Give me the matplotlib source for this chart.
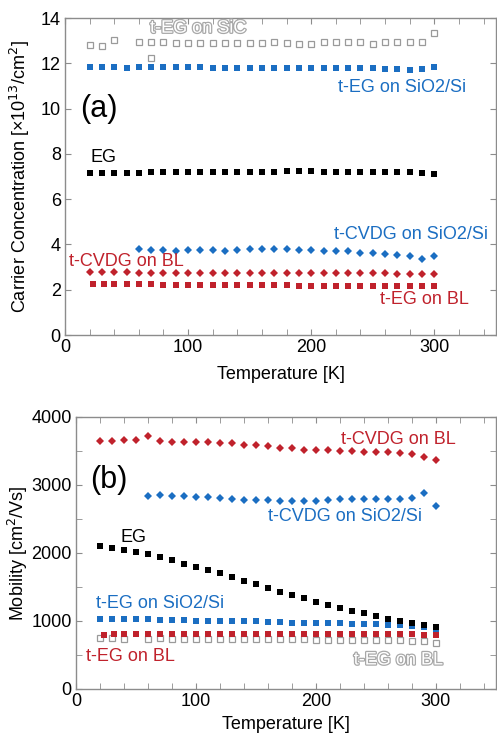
import matplotlib
matplotlib.use("Agg")
import matplotlib.pyplot as plt
import matplotlib.patheffects as pe
from matplotlib.ticker import MultipleLocator

plt.rcParams["font.family"] = ["Liberation Sans", "DejaVu Sans"]

RED = "#c0222c"
BLUE = "#1b6ec2"
GRAY = "#9a9a9a"
SPINE = "#8c8c8c"

# temperature grid shared by most series
temps = list(range(20, 301, 10))
temps_from60 = list(range(60, 301, 10))
temps_red_sq = [23, 32] + list(range(40, 301, 10))
temps_sic = [20, 30, 40, 60, 70, 70] + list(range(80, 301, 10))
temps_gray_b = [20, 30, 40] + list(range(60, 301, 10))

# (a) carrier concentration [1e13 / cm2]
conc_sic = [12.83, 12.76, 13.05, 12.95, 12.95, 12.24,
            12.95, 12.88, 12.88, 12.88, 12.88, 12.88, 12.88, 12.88, 12.88,
            12.95, 12.88, 12.86, 12.86, 12.95, 12.95, 12.95, 12.95, 12.86,
            12.95, 12.95, 12.95, 12.95, 13.35]
conc_teg_sio2 = [11.82, 11.82, 11.82, 11.8, 11.82, 11.82, 11.82, 11.82, 11.82, 11.82,
                 11.8, 11.8, 11.8, 11.8, 11.8, 11.8, 11.8, 11.8, 11.8, 11.8,
                 11.8, 11.8, 11.8, 11.8, 11.77, 11.75, 11.72, 11.73, 11.84]
conc_eg = [7.15, 7.15, 7.16, 7.16, 7.17, 7.18, 7.18, 7.19, 7.2, 7.2,
           7.2, 7.21, 7.21, 7.22, 7.22, 7.22, 7.23, 7.23, 7.23, 7.22,
           7.22, 7.22, 7.22, 7.21, 7.21, 7.2, 7.2, 7.17, 7.1]
conc_cvdg_sio2 = [3.79, 3.76, 3.76, 3.73, 3.76, 3.76, 3.76, 3.73, 3.76, 3.79,
                  3.79, 3.79, 3.81, 3.76, 3.76, 3.73, 3.69, 3.69, 3.64, 3.64,
                  3.58, 3.54, 3.47, 3.36, 3.5]
conc_cvdg_bl = [2.77, 2.77, 2.77, 2.77, 2.76, 2.76, 2.76, 2.76, 2.75, 2.75,
                2.75, 2.75, 2.75, 2.75, 2.75, 2.75, 2.75, 2.75, 2.75, 2.75,
                2.74, 2.74, 2.73, 2.73, 2.72, 2.71, 2.7, 2.71, 2.71]
conc_teg_bl = [2.25, 2.25, 2.26, 2.25, 2.24, 2.24, 2.23, 2.23, 2.22, 2.22,
               2.21, 2.21, 2.2, 2.2, 2.2, 2.19, 2.19, 2.18, 2.18, 2.18,
               2.17, 2.17, 2.16, 2.16, 2.16, 2.15, 2.15, 2.15, 2.15]

# (b) mobility [cm2/Vs]
mob_cvdg_bl = [3645, 3645, 3655, 3655, 3710, 3640, 3630, 3630, 3635, 3630,
               3620, 3610, 3590, 3585, 3565, 3540, 3535, 3515, 3510, 3505,
               3500, 3490, 3480, 3480, 3480, 3470, 3445, 3410, 3360]
mob_cvdg_sio2 = [2832, 2847, 2842, 2842, 2822, 2817, 2807, 2797, 2777, 2777,
                 2782, 2767, 2762, 2762, 2767, 2782, 2797, 2797, 2797, 2797,
                 2797, 2792, 2812, 2880, 2683]
mob_eg = [2097, 2073, 2043, 2019, 1989, 1935, 1891, 1842, 1798, 1749,
          1700, 1646, 1592, 1539, 1485, 1431, 1377, 1333, 1284, 1235,
          1196, 1152, 1112, 1068, 1034, 1000, 965, 941, 915]
mob_teg_sio2 = [1035, 1035, 1030, 1030, 1030, 1020, 1015, 1010, 1005, 1005,
                1000, 1000, 995, 995, 985, 980, 975, 975, 970, 965,
                965, 960, 955, 955, 945, 935, 930, 915, 880]
mob_teg_bl = [795, 805, 805, 815, 815, 805, 815, 815, 815, 815,
              815, 815, 815, 815, 815, 815, 815, 815, 815, 815,
              815, 815, 815, 815, 815, 815, 805, 800, 790]
mob_gray = [745, 745, 740, 740, 745, 740, 740, 740, 740, 740,
            740, 735, 735, 735, 730, 730, 730, 725, 725, 725,
            720, 720, 720, 715, 715, 710, 710, 675]


def style_axes(ax, ymax, ystep):
    ax.set_xlim(0, 350)
    ax.set_ylim(0, ymax)
    ax.xaxis.set_major_locator(MultipleLocator(100))
    ax.xaxis.set_minor_locator(MultipleLocator(20))
    ax.yaxis.set_major_locator(MultipleLocator(ystep))
    ax.tick_params(which="both", direction="in", top=True, right=True,
                   color=SPINE, labelsize=13, pad=3)
    ax.tick_params(which="major", length=4)
    ax.tick_params(which="minor", length=4)
    for sp in ax.spines.values():
        sp.set_color(SPINE)
        sp.set_linewidth(1.0)


def label(ax, x, y, s, color, size=13, hollow=False):
    if hollow:
        ax.text(x, y, s, color="white", fontsize=size, ha="center", va="center",
                path_effects=[pe.withStroke(linewidth=1.8, foreground="#a8a8a8")])
    else:
        ax.text(x, y, s, color=color, fontsize=size, ha="center", va="center")


sq = dict(marker="s", linestyle="none", ms=4.2, mew=0)
dm = dict(marker="D", linestyle="none", ms=4.4, mew=0)
open_sq = dict(marker="s", linestyle="none", ms=5.0, mfc="white", mec=GRAY, mew=0.9)

fig = plt.figure(figsize=(4.97, 7.35), dpi=100)

# ---- (a) carrier concentration ----
ax1 = fig.add_axes([0.1308, 0.5442, 0.867, 0.4313])
style_axes(ax1, 14, 2)
ax1.plot(temps_sic, conc_sic, **open_sq)
ax1.plot(temps, conc_teg_sio2, color=BLUE, **sq)
ax1.plot(temps, conc_eg, color="black", **sq)
ax1.plot(temps_from60, conc_cvdg_sio2, color=BLUE, **dm)
ax1.plot(temps, conc_cvdg_bl, color=RED, **dm)
ax1.plot(temps_red_sq, conc_teg_bl, color=RED, **sq)

label(ax1, 108, 13.55, "t-EG on SiC", GRAY, hollow=True)
label(ax1, 274, 10.93, "t-EG on SiO2/Si", BLUE)
label(ax1, 27.5, 9.96, "(a)", "black", size=22)
label(ax1, 31, 7.83, "EG", "black")
label(ax1, 281, 4.42, "t-CVDG on SiO2/Si", BLUE)
label(ax1, 50, 3.23, "t-CVDG on BL", RED)
label(ax1, 292, 1.55, "t-EG on BL", RED)

ax1.set_xlabel("Temperature [K]", fontsize=13)
ax1.xaxis.set_label_coords(0.5, -0.123)
ax1.xaxis.label.set_va("center")
ax1.set_ylabel("Carrier Concentration [×10$^{13}$/cm$^{2}$]", fontsize=13)
ax1.yaxis.set_label_coords(-0.104, 0.5)
ax1.yaxis.label.set_va("center")

# ---- (b) mobility ----
ax2 = fig.add_axes([0.1529, 0.0626, 0.845, 0.3705])
style_axes(ax2, 4000, 1000)
ax2.yaxis.set_minor_locator(MultipleLocator(500))
ax2.plot(temps_gray_b, mob_gray, **open_sq)
ax2.plot(temps_red_sq, mob_teg_bl, color=RED, **sq)
ax2.plot(temps, mob_teg_sio2, color=BLUE, **sq)
ax2.plot(temps, mob_eg, color="black", **sq)
ax2.plot(temps_from60, mob_cvdg_sio2, color=BLUE, **dm)
ax2.plot(temps, mob_cvdg_bl, color=RED, **dm)

label(ax2, 269, 3658, "t-CVDG on BL", RED)
label(ax2, 27.5, 3070, "(b)", "black", size=22)
label(ax2, 224, 2527, "t-CVDG on SiO2/Si", BLUE)
label(ax2, 48, 2218, "EG", "black")
label(ax2, 70, 1263, "t-EG on SiO2/Si", BLUE)
label(ax2, 45.5, 470, "t-EG on BL", RED)
label(ax2, 268.5, 426, "t-EG on BL", GRAY, hollow=True)

ax2.set_xlabel("Temperature [K]", fontsize=13)
ax2.xaxis.set_label_coords(0.5, -0.129)
ax2.xaxis.label.set_va("center")
ax2.set_ylabel("Mobility [cm$^{2}$/Vs]", fontsize=13)
ax2.yaxis.set_label_coords(-0.138, 0.5)
ax2.yaxis.label.set_va("center")

fig.savefig("out.png", dpi=100)
